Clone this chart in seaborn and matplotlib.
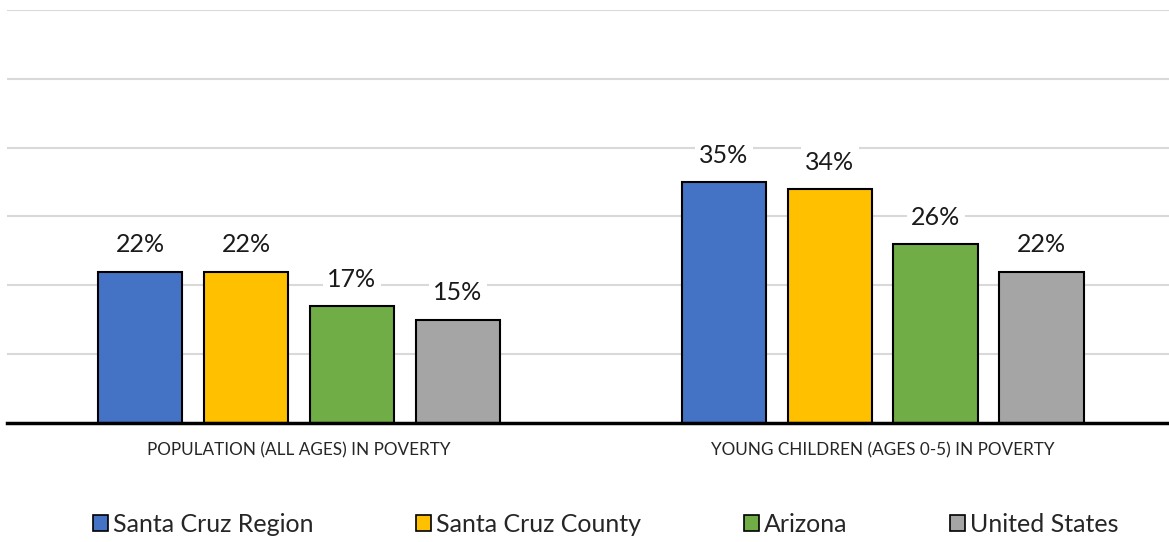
import matplotlib
matplotlib.use("Agg")
import matplotlib.pyplot as plt
import seaborn as sns
import pandas as pd
from matplotlib.patches import Patch

categories = ["POPULATION (ALL AGES) IN POVERTY", "YOUNG CHILDREN (AGES 0-5) IN POVERTY"]
series = ["Santa Cruz Region", "Santa Cruz County", "Arizona", "United States"]
values = {
    "Santa Cruz Region": [22, 35],
    "Santa Cruz County": [22, 34],
    "Arizona": [17, 26],
    "United States": [15, 22],
}
colors = ["#4472C4", "#FFC000", "#70AD47", "#A5A5A5"]

rows = []
for s in series:
    for c, v in zip(categories, values[s]):
        rows.append({"category": c, "series": s, "value": v})
df = pd.DataFrame(rows)

sns.set_theme(style="white")
plt.rcParams["font.family"] = ["Lato", "DejaVu Sans"]

fig = plt.figure(figsize=(11.69, 5.42), dpi=100)
ax = fig.add_axes([0.006, 0.2196, 0.994, 0.762])

sns.barplot(data=df, x="category", y="value", hue="series", order=categories,
            hue_order=series, palette=colors, saturation=1, width=0.726, gap=0.2,
            edgecolor="black", linewidth=1.5, ax=ax, legend=False, zorder=3)

ax.set_ylim(0, 60)
ax.set_xlim(-0.5, 1.49)
ax.set_yticks([10, 20, 30, 40, 50, 60])
ax.yaxis.grid(True, color="#D9D9D9", linewidth=1.5, zorder=0)
ax.set_axisbelow(True)
ax.tick_params(axis="y", left=False, labelleft=False)
ax.tick_params(axis="x", bottom=False, labelsize=12.3, pad=8)
for lab in ax.get_xticklabels():
    lab.set_color("#262626")
ax.set_xlabel("")
ax.set_ylabel("")
for side in ["top", "right", "left"]:
    ax.spines[side].set_visible(False)
ax.spines["bottom"].set_color("black")
ax.spines["bottom"].set_linewidth(2.5)
ax.spines["bottom"].set_zorder(5)

for cont in ax.containers:
    for bar in cont:
        h = bar.get_height()
        ax.annotate(f"{h:.0f}%", (bar.get_x() + bar.get_width() / 2, h),
                    xytext=(0, 11), textcoords="offset points",
                    ha="center", va="bottom", fontsize=18, color="#1a1a1a",
                    bbox=dict(facecolor="white", edgecolor="none", pad=3),
                    zorder=6)

handles = [Patch(facecolor=c, edgecolor="black", linewidth=1.2) for c in colors]
fig.legend(handles, series, loc="center", bbox_to_anchor=(0.518, 0.032), ncol=4,
           frameon=False, fontsize=18, handlelength=0.6, handleheight=0.6,
           handletextpad=0.2, columnspacing=4.1)

fig.savefig("out.png", dpi=100)
